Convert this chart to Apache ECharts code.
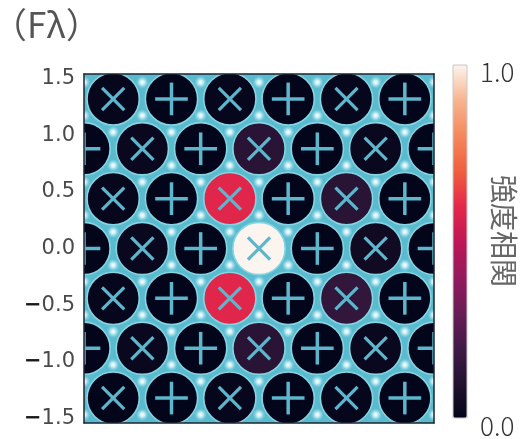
<!DOCTYPE html>
<html>
<head>
<meta charset="utf-8">
<script src="https://cdn.jsdelivr.net/npm/echarts@6/dist/echarts.min.js"></script>
<style>
html,body{margin:0;padding:0;background:#fff;}
#chart{width:522px;height:439px;}
</style>
</head>
<body>
<div id="chart"></div>
<script>
// ---- data ----
const titleText = '（Fλ）';
const cbarName = '強度相関';
const yTicks = [-1.5, -1.0, -0.5, 0.0, 0.5, 1.0, 1.5];
const cbarTicks = [0.0, 1.0];
// lattice rows (top to bottom)
const rowY = [1.32, 0.88, 0.44, 0.0, -0.44, -0.88, -1.32];
const oddX = [-1.25, -0.75, -0.25, 0.25, 0.75, 1.25];
const evenX = [-1.5, -1.0, -0.5, 0.0, 0.5, 1.0, 1.5];
const rowIsEven = [false, true, false, true, false, true, false];
// marker type on each site: 'x' = ×, '+' = +
const markerRows = ['x+x+x+', '+x+x+x+', 'x+x+x+', '+x+x+x+', 'x+x+x+', '+x+x+x+', 'x+x+x+'];
// intensity correlation on each site
const intensityRows = [
  [0.01, 0.0, 0.01, 0.0, 0.01, 0.0],
  [0.0, 0.02, 0.0, 0.12, 0.0, 0.02, 0.0],
  [0.01, 0.0, 0.59, 0.0, 0.12, 0.0],
  [0.0, 0.02, 0.0, 1.0, 0.0, 0.04, 0.0],
  [0.01, 0.0, 0.59, 0.0, 0.15, 0.0],
  [0.0, 0.02, 0.0, 0.12, 0.0, 0.02, 0.0],
  [0.0, 0.0, 0.01, 0.0, 0.01, 0.0]
];

// ---- build series data from the arrays ----
const siteData = [];
rowY.forEach((y, i) => {
  const xs = rowIsEven[i] ? evenX : oddX;
  xs.forEach((x, j) => {
    siteData.push([x, y, intensityRows[i][j], markerRows[i][j] === '+' ? 1 : 0]);
  });
});
// interstitial gaps (centroids of lattice triangles)
const gapData = [];
const h = rowY[0] - rowY[1];
evenX.forEach(x => { gapData.push([x, rowY[0] + h / 3]); gapData.push([x, rowY[rowY.length - 1] - h / 3]); });
for (let i = 0; i < rowY.length - 1; i++) {
  const upX = rowIsEven[i] ? evenX : oddX;
  const loX = rowIsEven[i + 1] ? evenX : oddX;
  loX.forEach(x => gapData.push([x, rowY[i] - h / 3]));
  upX.forEach(x => gapData.push([x, rowY[i] - 2 * h / 3]));
}

const rocket = ['#03051a', '#231230', '#421a47', '#6b1d56', '#941a5d', '#be1656', '#e4284a', '#ef5f3f', '#f4885c', '#f6b48f', '#fcf4ee'];

const chart = echarts.init(document.getElementById('chart'), null, {renderer: 'canvas'});
const frameLine = {show: true, onZero: false, lineStyle: {color: '#1c2530', width: 1.5}};
const tickFont = 'DejaVu Sans';

chart.setOption({
  animation: false,
  backgroundColor: '#ffffff',
  title: {
    text: titleText, left: -13, top: 2,
    textStyle: {fontSize: 35, fontWeight: 'normal', color: '#555', fontFamily: 'Noto Sans CJK JP'}
  },
  grid: [
    {left: 84, top: 74, width: 350, height: 349, show: true, backgroundColor: '#5abbcf', borderWidth: 0},
    {left: 453, top: 72, width: 14, height: 356, show: false}
  ],
  xAxis: [
    {gridIndex: 0, type: 'value', min: -1.5, max: 1.5, position: 'bottom', z: 5,
      axisLine: frameLine, axisTick: {show: false}, axisLabel: {show: false}, splitLine: {show: false}},
    {gridIndex: 0, type: 'value', min: -1.5, max: 1.5, position: 'top', z: 5,
      axisLine: frameLine, axisTick: {show: false}, axisLabel: {show: false}, splitLine: {show: false}},
    {gridIndex: 1, type: 'value', min: 0, max: 1, show: false}
  ],
  yAxis: [
    {gridIndex: 0, type: 'value', min: -1.54, max: 1.54, position: 'left', z: 5,
      axisLine: frameLine, axisTick: {show: false}, splitLine: {show: false},
      axisLabel: {
        show: true, customValues: yTicks, margin: 9, fontSize: 21, color: '#4a4a4a', fontFamily: tickFont,
        formatter: v => v < 0 ? '{m|−}' + Math.abs(v).toFixed(1) : v.toFixed(1),
        rich: {m: {fontSize: 21, fontWeight: 'bold', color: '#1a1a1a', fontFamily: tickFont}}
      }},
    {gridIndex: 0, type: 'value', min: -1.54, max: 1.54, position: 'right', z: 5,
      axisLine: frameLine, axisTick: {show: false}, axisLabel: {show: false}, splitLine: {show: false}},
    {gridIndex: 1, type: 'value', min: 0, max: 1, position: 'right',
      axisLine: {show: false}, axisTick: {show: false}, splitLine: {show: false},
      axisLabel: {show: true, customValues: cbarTicks, margin: 13, fontSize: 26, color: '#333',
        fontFamily: 'Noto Sans CJK JP', fontWeight: 300, formatter: v => v.toFixed(1)}}
  ],
  visualMap: {
    type: 'continuous', min: 0, max: 1, dimension: 2, seriesIndex: 1,
    inRange: {color: rocket}, orient: 'vertical', calculable: false, hoverLink: false,
    itemWidth: 14, itemHeight: 353, left: 448, top: 60, padding: 5, text: null
  },
  graphic: [
    {type: 'rect', shape: {x: 453, y: 65, width: 14, height: 353}, z: 100,
      style: {fill: 'none', stroke: '#c8c8c8', lineWidth: 1}},
    {type: 'text', x: 504, y: 231, rotation: -Math.PI / 2, z: 100,
      style: {text: cbarName, fontSize: 28, fontFamily: 'Noto Sans CJK JP', fill: '#666',
        textAlign: 'center', textVerticalAlign: 'middle'}}
  ],
  series: [
    {
      type: 'custom', xAxisIndex: 0, yAxisIndex: 0, clip: true, z: 1, silent: true,
      data: gapData,
      renderItem: (params, api) => {
        const c = api.coord([api.value(0), api.value(1)]);
        const r = 6.5;
        return {
          type: 'circle', shape: {cx: c[0], cy: c[1], r: r},
          style: {fill: {type: 'radial', x: 0.5, y: 0.5, r: 0.5, colorStops: [
            {offset: 0, color: 'rgba(255,255,255,1)'},
            {offset: 0.35, color: 'rgba(220,246,252,0.85)'},
            {offset: 1, color: 'rgba(140,215,230,0)'}]}}
        };
      }
    },
    {
      type: 'custom', xAxisIndex: 0, yAxisIndex: 0, clip: true, z: 2, silent: true,
      data: siteData,
      renderItem: (params, api) => {
        const c = api.coord([api.value(0), api.value(1)]);
        const r = api.size([0.224, 0])[0];
        const color = api.visual('color');
        const kind = api.value(3);
        const children = [{
          type: 'circle', shape: {cx: c[0], cy: c[1], r: r},
          style: {fill: color, stroke: '#86d5e3', lineWidth: 1.6}
        }];
        const mk = '#5db6cc';
        if (kind === 1) {
          const a = api.size([0.14, 0])[0];
          children.push({type: 'line', shape: {x1: c[0] - a, y1: c[1], x2: c[0] + a, y2: c[1]}, style: {stroke: mk, lineWidth: 3.5}});
          children.push({type: 'line', shape: {x1: c[0], y1: c[1] - a, x2: c[0], y2: c[1] + a}, style: {stroke: mk, lineWidth: 3.5}});
        } else {
          const a = api.size([0.095, 0])[0];
          children.push({type: 'line', shape: {x1: c[0] - a, y1: c[1] - a, x2: c[0] + a, y2: c[1] + a}, style: {stroke: mk, lineWidth: 3.2}});
          children.push({type: 'line', shape: {x1: c[0] - a, y1: c[1] + a, x2: c[0] + a, y2: c[1] - a}, style: {stroke: mk, lineWidth: 3.2}});
        }
        return {type: 'group', children: children};
      }
    }
  ]
});
</script>
</body>
</html>
